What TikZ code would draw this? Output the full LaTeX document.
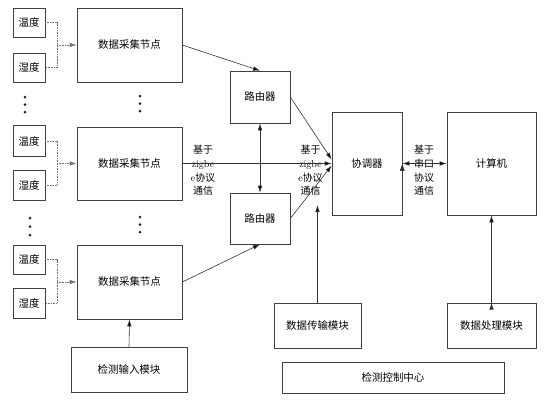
\documentclass[tikz,border=0pt]{standalone}
\usepackage{fontspec}
\newfontfamily\cjk{Noto Sans CJK SC}
\usetikzlibrary{arrows.meta}

\begin{document}
\begin{tikzpicture}[x=1bp, y=-1bp, >={Latex[length=7bp,width=4.5bp]},
    every node/.style={font=\cjk\fontsize{10.5}{13}\selectfont},
    block/.style={draw=black!75, line width=0.6bp, inner sep=0pt},
    note/.style={align=center, inner sep=0pt,
      font=\cjk\fontsize{10}{13.7}\selectfont},
    wire/.style={draw=black!80, line width=0.6bp},
    probe/.style={draw=black!55, line width=0.6bp, densely dotted}]

  \useasboundingbox (0,0) rectangle (554,403);

  % sensors and acquisition nodes
  \node[block, minimum width=32bp, minimum height=29bp] (t1) at (29,22.5)  {温度};
  \node[block, minimum width=32bp, minimum height=29bp] (h1) at (29,67.5)  {湿度};
  \node[block, minimum width=32bp, minimum height=31bp] (t2) at (29,141)   {温度};
  \node[block, minimum width=32bp, minimum height=30bp] (h2) at (29,185)   {湿度};
  \node[block, minimum width=32bp, minimum height=29bp] (t3) at (29,259.5) {温度};
  \node[block, minimum width=32bp, minimum height=30bp] (h3) at (29,303)   {湿度};

  \node[block, minimum width=105bp, minimum height=74bp] (n1) at (129.5,45)    {数据采集节点};
  \node[block, minimum width=105bp, minimum height=73bp] (n2) at (129.5,163.5) {数据采集节点};
  \node[block, minimum width=105bp, minimum height=74bp] (n3) at (129.5,282)   {数据采集节点};
  \node[block, minimum width=116bp, minimum height=45bp] (input) at (129,369.5) {检测输入模块};

  % routers, coordinator and computer
  \node[block, minimum width=60bp, minimum height=52bp]  (r1) at (260,97)    {路由器};
  \node[block, minimum width=60bp, minimum height=51bp]  (r2) at (260,218.5) {路由器};
  \node[block, minimum width=70bp, minimum height=103bp] (coord) at (367,163.5) {协调器};
  \node[block, minimum width=89bp, minimum height=103bp] (pc) at (491.5,163.5)  {计算机};

  \node[block, minimum width=87bp, minimum height=45bp]  (trans) at (317.5,325.5) {数据传输模块};
  \node[block, minimum width=89bp, minimum height=45bp]  (proc) at (491.5,325.5)  {数据处理模块};
  \node[block, minimum width=222bp, minimum height=31bp] (centre) at (393,377.5)  {检测控制中心};

  % link labels
  \node[note] (zb1) at (203,170.5) {基于\\{\rmfamily zigbe}\\{\rmfamily e}协议\\通信};
  \node[note] (zb2) at (310.5,170.5) {基于\\{\rmfamily zigbe}\\{\rmfamily e}协议\\通信};
  \node[note] (com) at (424,170.5) {基于\\串口\\协议\\通信};

  % ellipsis dots
  \foreach \x/\y in {25/97, 25/104.5, 25/112, 140/96, 140/103.5, 140/111,
                     30/218, 30/226.5, 30/235, 140/217, 140/224.5, 140/232}
    \fill[black!85] (\x,\y) circle (1.5bp);

  % sensor wiring
  \coordinate (j1) at (57,45);
  \coordinate (j2) at (57,163.5);
  \coordinate (j3) at (57,282);
  \foreach \i in {1,2,3} {
    \draw[probe] (t\i.east) -| (j\i) |- (h\i.east);
    \draw[probe, ->] (j\i) -- (n\i.west);
  }

  \coordinate (transtip) at (317.5,205);

  \path[wire, ->] (n1.east) edge (r1.north)
        (n3.east) edge (r2.south)
        (n2.east) edge (coord.west)
        (r1.east) edge ([yshift=4bp]coord.west)
        (r2.east) edge ([yshift=-2bp]coord.west)
        (input.north) edge (n3.south)
        (trans.north) edge (transtip)
        (proc.north) edge (pc.south);
  \path[wire, <->] (r1.south) edge (r2.north)
        (coord.east) edge (pc.west);

\end{tikzpicture}
\end{document}
